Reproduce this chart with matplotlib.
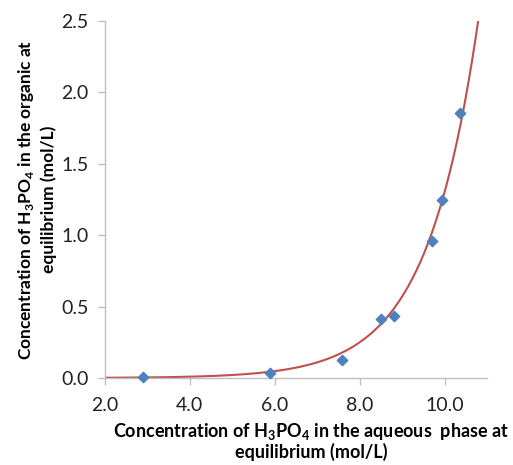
import numpy as np
import matplotlib
matplotlib.use("Agg")
import matplotlib.pyplot as plt

aqueous = [2.90, 5.89, 7.58, 8.50, 8.82, 9.70, 9.95, 10.36]
organic = [0.004, 0.037, 0.126, 0.41, 0.436, 0.957, 1.246, 1.854]

# Exponential trend line y = A * exp(B * x), coefficients
TREND_A = 3.4e-4
TREND_B = 0.825
trend_x = [2.0, 10.80]

x_ticks = [2.0, 4.0, 6.0, 8.0, 10.0]
y_ticks = [0.0, 0.5, 1.0, 1.5, 2.0, 2.5]

GRAY = "#bfbfbf"
BLUE = "#4f81bd"
RED = "#c0504d"

plt.rcParams["font.family"] = ["Lato", "DejaVu Sans"]
plt.rcParams["mathtext.fontset"] = "custom"
plt.rcParams["mathtext.rm"] = "Lato"
plt.rcParams["mathtext.bf"] = "Lato:bold"

fig = plt.figure(figsize=(5.13, 4.65), dpi=100)
ax = fig.add_axes([105 / 513, 1 - 378 / 465, 382 / 513, 357 / 465])

xs = np.linspace(trend_x[0], trend_x[1], 300)
ax.plot(xs, TREND_A * np.exp(TREND_B * xs), color=RED, lw=1.5, zorder=2)
ax.scatter(aqueous, organic, marker="D", s=28, color=BLUE, zorder=3,
           clip_on=False)

ax.set_xlim(2.0, 11.0)
ax.set_ylim(0.0, 2.5)
ax.set_xticks(x_ticks)
ax.set_yticks(y_ticks)
ax.set_xticklabels([f"{v:.1f}" for v in x_ticks])
ax.set_yticklabels([f"{v:.1f}" for v in y_ticks])

for side in ["top", "right"]:
    ax.spines[side].set_visible(False)
for side in ["left", "bottom"]:
    ax.spines[side].set_color(GRAY)
    ax.spines[side].set_linewidth(1.0)

ax.tick_params(axis="both", direction="out", length=5, width=1.0,
               color=GRAY, labelsize=14, labelcolor="#222222")
ax.tick_params(axis="x", pad=9)
ax.tick_params(axis="y", pad=7)

ax.set_xlabel("Concentration of H$_{\\mathbf{3}}$PO$_{\\mathbf{4}}$ in the aqueous  phase at\n"
              "equilibrium (mol/L)",
              fontsize=13, fontweight="bold", linespacing=1.05)
ax.xaxis.set_label_coords(0.54, -0.12)
ax.xaxis.label.set_verticalalignment("top")
ax.set_ylabel("Concentration of H$_{\\mathbf{3}}$PO$_{\\mathbf{4}}$ in the organic at\n"
              "equilibrium (mol/L)",
              fontsize=12.5, fontweight="bold", linespacing=1.3, labelpad=3)

fig.savefig("out.png", dpi=100)
